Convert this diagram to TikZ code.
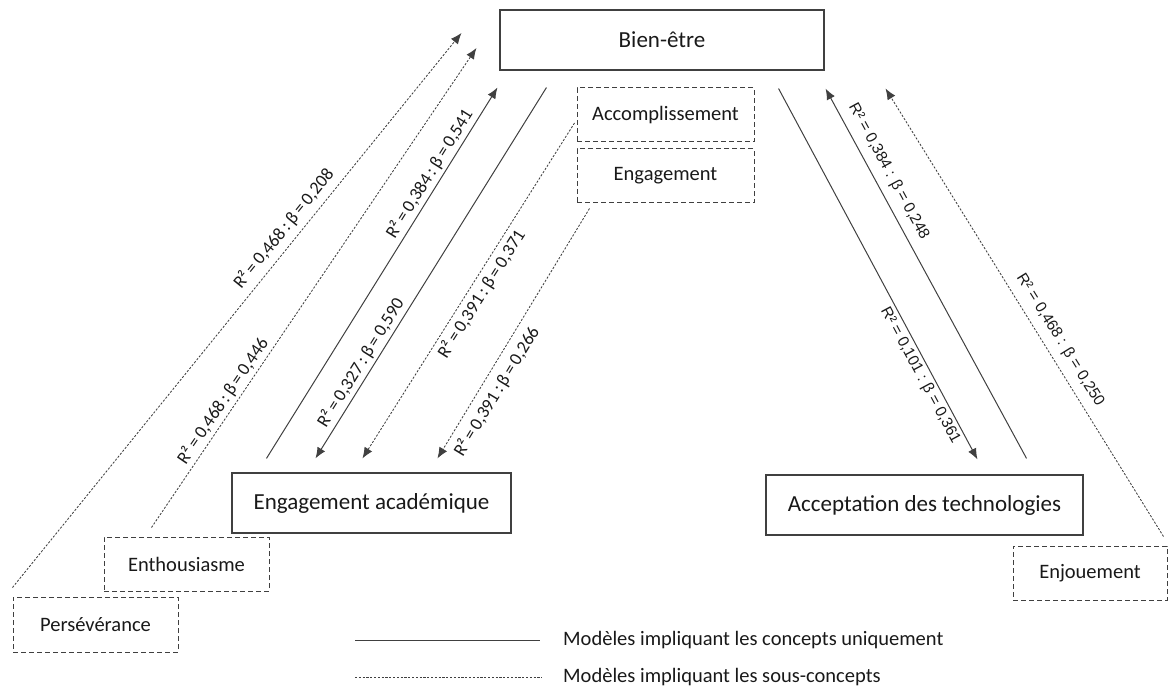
\documentclass[tikz,border=0pt]{standalone}
\usepackage{fontspec}
\setmainfont{Carlito}
\newfontfamily\arialf{Liberation Sans}
\usetikzlibrary{arrows.meta}
\begin{document}
\begin{tikzpicture}[x=1pt,y=1pt,
  mainbox/.style={draw=black!75, line width=1.1pt, inner sep=0pt, font=\fontsize{23}{27}\selectfont, text=black!90},
  subbox/.style={draw=black!75, line width=1pt, dash pattern=on 5pt off 3pt, inner sep=0pt, font=\fontsize{20.5}{24}\selectfont, text=black!90},
  solidarr/.style={draw=black!75, line width=1pt},
  dotarr/.style={draw=black!75, line width=0.85pt, dash pattern=on 2.2pt off 1.6pt},
  tip/.style={-{Latex[length=11pt,width=9pt]}},
  lbl/.style={sloped, inner sep=3pt, font=\fontsize{18}{20}\selectfont, text=black!90},
  rlbl/.style={sloped, inner sep=4pt, font=\arialf\fontsize{15.5}{18}\selectfont, text=black!90},
  legtxt/.style={anchor=west, inner sep=0pt, font=\fontsize{20.5}{24}\selectfont, text=black!90}
]
\useasboundingbox (0,0) rectangle (1168,-690);

% nodes
\node[mainbox, minimum width=324pt, minimum height=60pt] (bien) at (662,-40) {Bien-être};
\node[subbox, minimum width=177pt, minimum height=54pt] (accomp) at (665.5,-115) {Accomplissement};
\node[subbox, minimum width=177pt, minimum height=54pt] (engag) at (665.5,-176) {Engagement};
\node[mainbox, minimum width=279pt, minimum height=60pt] (engac) at (371.5,-503) {Engagement académique};
\node[mainbox, minimum width=317pt, minimum height=60pt] (accept) at (924.5,-505) {Acceptation des technologies};
\node[subbox, minimum width=165pt, minimum height=54pt] (enthou) at (186.5,-564) {Enthousiasme};
\node[subbox, minimum width=165pt, minimum height=55pt] (pers) at (95.5,-624.5) {Persévérance};
\node[subbox, minimum width=154pt, minimum height=54pt] (enjou) at (1090,-573) {Enjouement};

% left connectors
\draw[dotarr, tip] ([yshift=9pt]pers.north west) -- ([xshift=-38pt,yshift=7pt]bien.west)
  node[lbl, pos=0.63, above, inner sep=6pt] {R²\,=\,0,468\,:\,β\,=\,0,208};
\draw[dotarr, tip] ([xshift=48pt,yshift=9pt]enthou.north west) -- ([xshift=-23pt,yshift=-8pt]bien.west)
  node[lbl, pos=0.25, above] {R²\,=\,0,468\,:\,β\,=\,0,446};
\draw[solidarr, tip] ([xshift=35pt,yshift=14pt]engac.north west) -- ([xshift=-2pt,yshift=-17pt]bien.south west)
  node[lbl, pos=0.75, above] {R²\,=\,0,384\,:\,β\,=\,0,541};
\draw[solidarr, tip] ([xshift=47pt,yshift=-17pt]bien.south west) -- ([xshift=84pt,yshift=14pt]engac.north west)
  node[lbl, pos=0.76, above] {R²\,=\,0,327\,:\,β\,=\,0,590};
\draw[dotarr, tip] ([xshift=-2pt,yshift=-8pt]accomp.west) -- ([xshift=131pt,yshift=14pt]engac.north west)
  node[lbl, pos=0.49, below, inner sep=4pt] {R²\,=\,0,391\,:\,β\,=\,0,371};
\draw[dotarr, tip] ([xshift=13pt,yshift=-5pt]engag.south west) -- ([xshift=206pt,yshift=14pt]engac.north west)
  node[lbl, pos=0.7, below, inner sep=7pt] {R²\,=\,0,391\,:\,β\,=\,0,266};

% right connectors
\draw[solidarr, tip] ([xshift=-46pt,yshift=-18pt]bien.south east) -- ([xshift=212pt,yshift=15pt]accept.north west)
  node[rlbl, pos=0.76, below, inner sep=3pt] {R² = 0,101 : β = 0,361};
\draw[solidarr, tip] ([xshift=-57pt,yshift=16pt]accept.north east) -- ([xshift=1pt,yshift=-18pt]bien.south east)
  node[rlbl, pos=0.755, above, inner sep=8pt] {R² = 0,384 : β = 0,248};
\draw[dotarr, tip] ([xshift=-4pt,yshift=9pt]enjou.north east) -- ([xshift=61pt,yshift=-18pt]bien.south east)
  node[rlbl, pos=0.42, above, inner sep=8pt] {R² = 0,468 : β = 0,250};

% legend
\coordinate (la) at (355,-640);
\coordinate (lb) at (540,-640);
\coordinate (lc) at (355,-677);
\coordinate (ld) at (542,-677);
\draw[solidarr] (la) -- (lb);
\draw[dotarr] (lc) -- (ld);
\node[legtxt] (leg1) at (563,-640) {Modèles impliquant les concepts uniquement};
\node[legtxt] (leg2) at (563,-677) {Modèles impliquant les sous-concepts};
\end{tikzpicture}
\end{document}
